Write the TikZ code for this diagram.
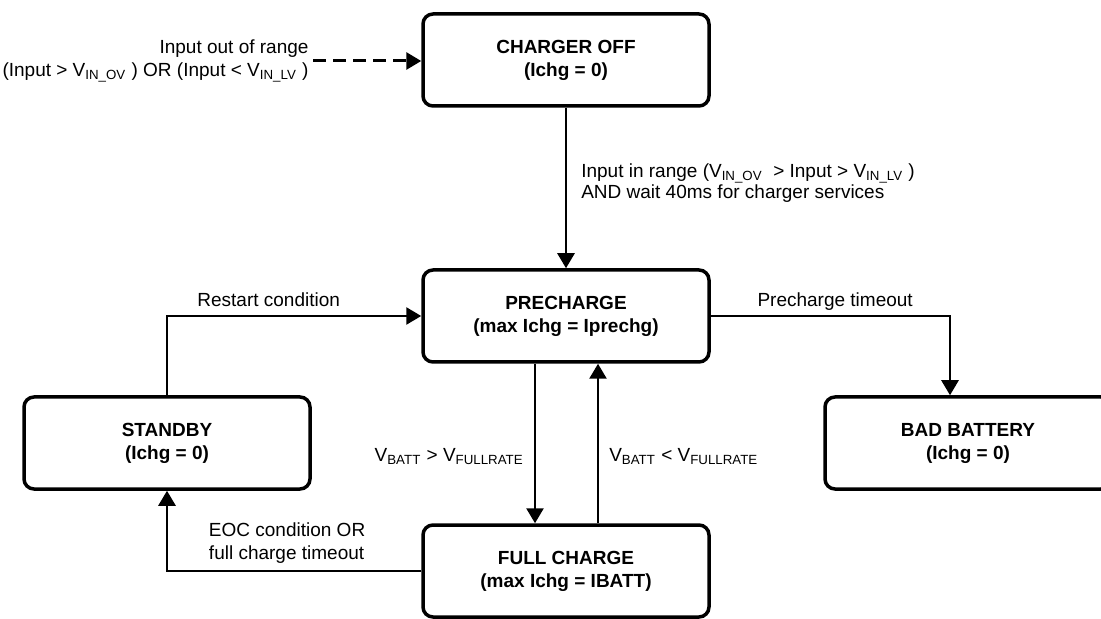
\documentclass[tikz,border=0pt]{standalone}
\usepackage{fontspec}
\setmainfont{Liberation Sans}
\usepackage{tikz}
\usetikzlibrary{positioning,arrows.meta}

\begin{document}
\begin{tikzpicture}[
		x=0.5pt, y=-0.5pt
		,every node/.append style={font=\fontsize{9.5pt}{11.5pt}\selectfont}
		,state/.style={draw, line width=1.75pt, rounded corners=5pt, minimum width=143pt, minimum height=46pt, inner sep=0pt, align=center, font=\fontsize{9.5pt}{11.5pt}\selectfont\bfseries}
		,arr/.style={line width=1.3pt, -{Triangle[length=7.5pt,width=8.5pt]}}
		,dasharr/.style={arr, line width=1.5pt, dash pattern=on 6.5pt off 3.5pt}
		,lbl/.style={inner sep=0pt}
	]
	\useasboundingbox (0,0) rectangle (1101,619);

	\node [state] (off) at (566,60) {CHARGER OFF\\(Ichg = 0)};
	\node [state] (pre) at (566,316) {PRECHARGE\\(max Ichg = Iprechg)};
	\node [state] (full) at (566,571) {FULL CHARGE\\(max Ichg = IBATT)};
	\node [state] (stby) at (167,443) {STANDBY\\(Ichg = 0)};
	\node [state] (bad) at (968,443) {BAD BATTERY\\(Ichg = 0)};

	\coordinate (src) at (313,61);
	\draw [dasharr] (src) node [lbl, left=1.5pt, align=right] (outlbl) {Input out of range\\(Input > V\textsubscript{IN\_OV} ) OR (Input < V\textsubscript{IN\_LV} )} -- (src -| off.west);

	\draw [arr] (off) -- (pre)
		node [lbl, pos=.47, right=7pt, align=left, font=\fontsize{9.5pt}{10.5pt}\selectfont] (inlbl) {Input in range (V\textsubscript{IN\_OV}\ \ > Input > V\textsubscript{IN\_LV} )\\AND wait 40ms for charger services};

	\draw [arr] (stby) |- (pre)
		node [lbl, pos=.7, anchor=base, yshift=4.6pt] (rstlbl) {Restart condition};

	\draw [arr] (pre) -| ([xshift=-9pt]bad.north)
		node [lbl, pos=.26, anchor=base, yshift=4.6pt] (tolbl) {Precharge timeout};

	\draw [arr] ([xshift=-15.5pt]pre.south) -- ([xshift=-15.5pt]full.north)
		node [lbl, pos=.58, left=5pt] (dnlbl) {V\textsubscript{BATT} > V\textsubscript{FULLRATE}};
	\draw [arr] ([xshift=16pt]full.north) -- ([xshift=16pt]pre.south)
		node [lbl, pos=.42, right=5pt] (uplbl) {V\textsubscript{BATT} < V\textsubscript{FULLRATE}};

	\draw [arr] (full) -| (stby)
		node [lbl, pos=.42, anchor=south west, yshift=3pt, align=left] (eoclbl) {EOC condition OR\\full charge timeout};
\end{tikzpicture}
\end{document}
